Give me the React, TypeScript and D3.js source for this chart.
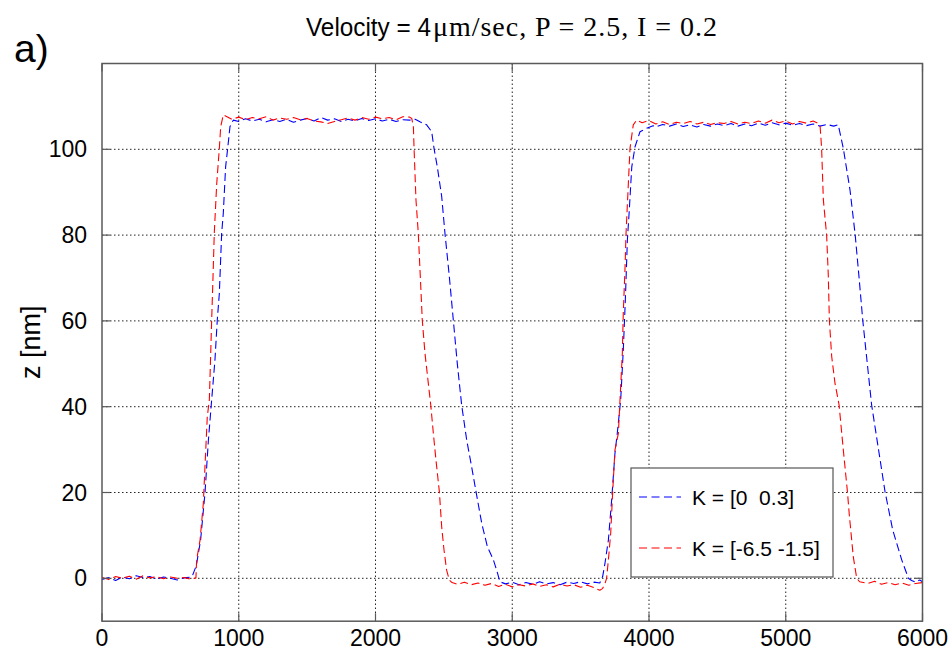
import React from "react";
import * as d3 from "d3";

// ---- data (x = sample index, z in nm) ----
const xTicks = [0, 1000, 2000, 3000, 4000, 5000, 6000];
const yTicks = [0, 20, 40, 60, 80, 100];

const seriesNames = ["K = [0  0.3]", "K = [-6.5 -1.5]"];

const bluePoints: [number, number][] = [
  [0, -0.3], [50, 0.2], [100, -0.5], [150, 0.3], [200, -0.1], [250, 0.6], [300, 0.2], [350, 0.4],
  [400, -0.2], [450, 0.3], [500, 0.0], [550, -0.4], [600, 0.1], [650, 0.3],
  [660, 0.5], [690, 3], [721, 8.9], [753, 19.8], [778, 32.2], [802, 41.6], [826, 50.9], [843, 60.2],
  [858, 66.4], [875, 80.4], [887, 85.1], [904, 95.9], [919, 100.2], [936, 105.3], [960, 106.8],
  [1000, 106.5], [1050, 107.1], [1100, 106.6], [1150, 107.0], [1200, 106.4], [1250, 106.9], [1300, 106.5],
  [1350, 107.0], [1400, 106.3], [1450, 106.8], [1500, 107.2], [1550, 106.6], [1600, 107.4], [1650, 106.8],
  [1700, 107.1], [1750, 106.5], [1800, 107.0], [1850, 106.6], [1900, 107.2], [1950, 106.7], [2000, 107.1],
  [2050, 106.6], [2100, 107.0], [2150, 106.5], [2200, 106.9], [2250, 106.8], [2290, 107.0],
  [2325, 106.4], [2374, 105.7], [2411, 104.1], [2428, 100.2], [2452, 95.9], [2484, 89], [2508, 80.4],
  [2540, 70.3], [2569, 60.2], [2598, 50.1], [2630, 40.4], [2667, 32.2], [2703, 26], [2735, 20.2],
  [2777, 12.8], [2818, 7.4], [2862, 4.3], [2886, 1.9], [2910, -0.8],
  [2950, -1.3], [3000, -0.9], [3050, -1.5], [3100, -1.0], [3150, -1.4], [3200, -0.8], [3250, -1.3],
  [3300, -1.0], [3350, -1.5], [3400, -0.9], [3450, -1.2], [3500, -0.8], [3550, -1.3], [3600, -0.9], [3640, -1.1],
  [3661, 0.4], [3678, 3.5], [3703, 8.9], [3727, 18.3], [3751, 29.1], [3768, 33.8], [3793, 41.6], [3812, 53.2],
  [3827, 64.9], [3842, 78.9], [3856, 85.9], [3874, 95.9], [3898, 100.6], [3934, 104.1], [3983, 104.9], [4030, 105.5],
  [4050, 105.2], [4100, 105.8], [4150, 105.4], [4200, 105.9], [4250, 105.3], [4300, 105.7], [4350, 105.2],
  [4400, 105.8], [4450, 105.4], [4500, 105.9], [4550, 105.5], [4600, 106.0], [4650, 105.4], [4700, 105.9],
  [4750, 105.5], [4800, 106.1], [4850, 105.6], [4900, 106.2], [4950, 105.7], [5000, 106.1], [5050, 105.6],
  [5100, 106.0], [5150, 105.5], [5200, 105.9], [5250, 105.4], [5300, 105.8], [5350, 105.4], [5384, 105.7],
  [5421, 100.2], [5470, 90.5], [5507, 80.3], [5535, 70.5], [5563, 60.2], [5628, 40.4], [5726, 20.2],
  [5782, 11.3], [5848, 4.3], [5897, 0],
  [5920, -0.5], [5950, -0.9], [5980, -0.4], [6000, -0.8],
];

const redPoints: [number, number][] = [
  [0, 0.2], [50, -0.3], [100, 0.4], [150, 0], [200, 0.5], [250, -0.2], [300, 0.6], [350, 0.1],
  [400, 0.4], [450, -0.1], [500, 0.3], [550, 0], [600, 0.2], [650, -0.2],
  [687, 0.1], [692, 4.3], [717, 8.9], [741, 17.5], [753, 26], [770, 37.7], [785, 41.6], [802, 60.2],
  [814, 72.6], [821, 80.4], [839, 92], [858, 100.2], [868, 105.3], [887, 108],
  [900, 107.8], [950, 107.0], [1000, 107.5], [1050, 106.9], [1100, 107.4], [1150, 107.1], [1200, 107.6],
  [1250, 106.8], [1300, 107.3], [1350, 107.0], [1400, 107.4], [1450, 106.9], [1500, 107.2], [1550, 106.6],
  [1600, 106.4], [1650, 106.0], [1700, 106.5], [1750, 106.9], [1800, 107.3], [1850, 106.8], [1900, 107.4],
  [1950, 107.0], [2000, 107.5], [2050, 107.1], [2100, 107.4], [2150, 106.9], [2200, 107.6], [2250, 107.5],
  [2265, 107.2], [2277, 105.3], [2282, 100.2], [2296, 88.2], [2313, 80.4], [2331, 68], [2342, 60.2],
  [2362, 52.4], [2386, 45.5], [2404, 40.4], [2423, 33.8], [2442, 27.6], [2467, 20.2], [2484, 12],
  [2501, 6.6], [2520, 1.9], [2540, -0.4],
  [2560, -1.0], [2600, -1.4], [2650, -0.9], [2700, -1.5], [2750, -1.1], [2800, -1.6], [2850, -1.2],
  [2900, -1.9], [2950, -1.4], [3000, -2.0], [3050, -1.5], [3100, -1.8], [3150, -1.3], [3200, -1.9],
  [3250, -1.5], [3300, -2.0], [3350, -1.4], [3400, -1.8], [3450, -1.5], [3500, -2.1], [3550, -1.6],
  [3600, -2.2], [3640, -2.8], [3660, -2.4], [3675, -1.5], [3690, 0],
  [3703, 4.3], [3720, 10.5], [3734, 19.8], [3751, 29.9], [3776, 33.8], [3788, 41.6], [3805, 52.4],
  [3812, 61.8], [3825, 72.6], [3832, 80.4], [3849, 92], [3861, 100.2], [3885, 105.7], [3910, 106.8],
  [3950, 106.2], [4000, 106.7], [4050, 105.9], [4100, 106.4], [4150, 105.8], [4200, 106.3], [4250, 106.0],
  [4300, 106.5], [4350, 105.9], [4400, 106.3], [4450, 105.8], [4500, 106.2], [4550, 106.0], [4600, 106.5],
  [4650, 105.9], [4700, 106.3], [4750, 106.0], [4800, 106.6], [4850, 106.1], [4900, 106.8], [4950, 106.2],
  [5000, 106.6], [5050, 105.9], [5100, 106.5], [5150, 106.1], [5200, 106.6], [5240, 106.0],
  [5251, 105.5], [5262, 100.5], [5275, 88.2], [5299, 80], [5311, 70.7], [5319, 60.2], [5336, 51.7],
  [5360, 45.5], [5390, 40.4], [5421, 29.9], [5451, 20.2], [5465, 14.7], [5494, 5], [5519, 0],
  [5540, -0.8], [5600, -1.2], [5650, -0.7], [5700, -1.4], [5750, -1.0], [5800, -1.5], [5850, -1.1],
  [5900, -1.6], [5950, -1.2], [6000, -1.0],
];

const seriesColors = ["#0000ff", "#ff0000"];

export default function App() {
  const W = 951;
  const H = 654;
  const left = 102;
  const right = 922.5;
  const top = 63.5;
  const bottom = 621.2;

  const x = d3.scaleLinear().domain([0, 6000]).range([left, right]);
  const y = d3.scaleLinear().domain([-10, 120]).range([bottom, top]);

  const line = d3
    .line<[number, number]>()
    .x((d) => x(d[0]))
    .y((d) => y(d[1]));

  const axisColor = "#5a5a5a";
  const gridColor = "#222";
  const tickLen = 8;
  const sans = "Liberation Sans, Arial, sans-serif";
  const serif = "Liberation Serif, Times New Roman, serif";

  const series = [bluePoints, redPoints];

  return (
    <svg
      width={W}
      height={H}
      style={{ position: "absolute", left: 0, top: 0, background: "#fff" }}
    >
      <rect x={0} y={0} width={W} height={H} fill="#fff" />
      {/* title */}
      <text
        x={306}
        y={36}
        fontFamily={sans}
        fontSize={26}
        fill="#000"
        textLength={125}
        lengthAdjust="spacingAndGlyphs"
      >
        Velocity = 4
      </text>
      <text
        x={433}
        y={36}
        fontFamily={serif}
        fontSize={28}
        fill="#000"
        textLength={284}
        lengthAdjust="spacing"
      >
        μm/sec, P = 2.5, I = 0.2
      </text>
      <text x={14} y={62} fontFamily={sans} fontSize={39} fill="#000">
        a)
      </text>

      {/* grid */}
      <g stroke={gridColor} strokeWidth={1} strokeDasharray="1.5,2.5">
        {xTicks.slice(1, -1).map((t) => (
          <line key={"gx" + t} x1={x(t)} x2={x(t)} y1={top} y2={bottom} />
        ))}
        {yTicks.map((t) => (
          <line key={"gy" + t} x1={left} x2={right} y1={y(t)} y2={y(t)} />
        ))}
      </g>

      {/* data */}
      <defs>
        <clipPath id="plotclip">
          <rect x={left} y={top} width={right - left} height={bottom - top} />
        </clipPath>
      </defs>
      <g clipPath="url(#plotclip)" fill="none">
        {series.map((pts, i) => (
          <path
            key={i}
            d={line(pts) || ""}
            stroke={seriesColors[i]}
            strokeWidth={1.1}
            strokeDasharray="8,4"
            strokeLinejoin="round"
          />
        ))}
      </g>

      {/* axes box */}
      <rect
        x={left}
        y={top}
        width={right - left}
        height={bottom - top}
        fill="none"
        stroke={axisColor}
        strokeWidth={1.5}
      />
      {/* ticks */}
      <g stroke={axisColor} strokeWidth={1.2}>
        {xTicks.map((t) => (
          <g key={"tx" + t}>
            <line x1={x(t)} x2={x(t)} y1={bottom} y2={bottom - tickLen} />
            <line x1={x(t)} x2={x(t)} y1={top} y2={top + tickLen} />
          </g>
        ))}
        {yTicks.map((t) => (
          <g key={"ty" + t}>
            <line x1={left} x2={left + tickLen} y1={y(t)} y2={y(t)} />
            <line x1={right} x2={right - tickLen} y1={y(t)} y2={y(t)} />
          </g>
        ))}
      </g>
      {/* tick labels */}
      <g fontFamily={sans} fontSize={23} fill="#000">
        {xTicks.map((t) => (
          <text key={"lx" + t} x={x(t)} y={646} textAnchor="middle">
            {t}
          </text>
        ))}
        {yTicks.map((t) => (
          <text key={"ly" + t} x={87} y={y(t) + 8} textAnchor="end">
            {t}
          </text>
        ))}
      </g>
      {/* y label */}
      <text
        transform={`translate(40, ${(top + bottom) / 2}) rotate(-90)`}
        textAnchor="middle"
        fontFamily={sans}
        fontSize={27}
        fill="#000"
      >
        z [nm]
      </text>

      {/* legend */}
      <g>
        <rect x={631} y={468} width={202} height={109} fill="#fff" stroke="#555" strokeWidth={1.2} />
        {seriesNames.map((name, i) => {
          const cy = i === 0 ? 497 : 548;
          return (
            <g key={name}>
              <line
                x1={639}
                x2={681}
                y1={cy}
                y2={cy}
                stroke={seriesColors[i]}
                strokeWidth={1.1}
                strokeDasharray="8,4.5"
              />
              <text
                x={692}
                y={cy + 7.5}
                fontFamily={sans}
                fontSize={21}
                fill="#000"
                style={{ whiteSpace: "pre" }}
              >
                {name}
              </text>
            </g>
          );
        })}
      </g>
    </svg>
  );
}
